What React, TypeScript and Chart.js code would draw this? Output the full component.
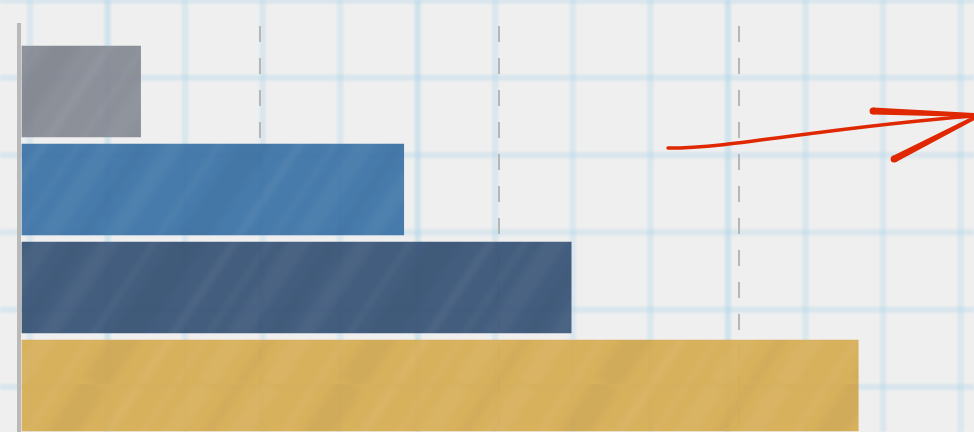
import React, { useEffect, useRef } from 'react';
import { Chart, registerables } from 'chart.js';

Chart.register(...registerables);

// ---- data ----
const categories = ['Item 1', 'Item 2', 'Item 3', 'Item 4'];
const values = [5, 16, 23, 35];
const barColors = ['#868b95', '#3f76a8', '#3b5679', '#d6ae56'];
const xTickStep = 10;
const xMin = 0;
const xMax = 39.84;
const yMin = -0.699;
const yMax = 3.474;

// hand-drawn arrow annotation, in data units (x value, category position)
const arrowShaftX = [27.05, 29.85, 33.4, 39.84];
const arrowShaftY = [0.577, 0.577, 0.372, 0.25];
const arrowHeadTopX = [35.62, 39.84];
const arrowHeadTopY = [0.199, 0.24];
const arrowHeadLowX = [36.5, 39.84];
const arrowHeadLowY = [0.689, 0.27];

function hexToRgb(hex: string) {
  const n = parseInt(hex.slice(1), 16);
  return [(n >> 16) & 255, (n >> 8) & 255, n & 255];
}

function makeTexture(color: string): CanvasPattern | string {
  const c = document.createElement('canvas');
  const W = 256, H = 384;
  c.width = W; c.height = H;
  const g = c.getContext('2d');
  if (!g) return color;
  const [r, gg, b] = hexToRgb(color);
  g.fillStyle = `rgba(${r},${gg},${b},0.96)`;
  g.fillRect(0, 0, W, H);
  g.filter = 'blur(3px)';
  const streaks: [number, number, number][] = [
    [15, 18, 0.045], [60, 4, 0.07], [95, 26, -0.035], [140, 8, 0.06],
    [175, 3, 0.08], [205, 20, 0.04], [240, 6, -0.04],
  ];
  for (const [o, w, a] of streaks) {
    g.strokeStyle = a > 0 ? `rgba(255,255,255,${a})` : `rgba(0,0,0,${-a})`;
    g.lineWidth = w;
    for (const shift of [-W, 0, W]) {
      g.beginPath();
      g.moveTo(o + shift, H);
      g.lineTo(o + shift + W, 0);
      g.stroke();
    }
  }
  const p = g.createPattern(c, 'repeat');
  return p || color;
}

function taper(ctx: CanvasRenderingContext2D, x1: number, y1: number, w1: number, x2: number, y2: number, w2: number) {
  const dx = x2 - x1, dy = y2 - y1;
  const len = Math.hypot(dx, dy) || 1;
  const nx = -dy / len, ny = dx / len;
  ctx.beginPath();
  ctx.moveTo(x1 + nx * w1 / 2, y1 + ny * w1 / 2);
  ctx.lineTo(x2 + nx * w2 / 2, y2 + ny * w2 / 2);
  ctx.lineTo(x2 - nx * w2 / 2, y2 - ny * w2 / 2);
  ctx.lineTo(x1 - nx * w1 / 2, y1 - ny * w1 / 2);
  ctx.closePath();
  ctx.fill();
  ctx.beginPath(); ctx.arc(x1, y1, w1 / 2, 0, Math.PI * 2); ctx.fill();
  ctx.beginPath(); ctx.arc(x2, y2, w2 / 2, 0, Math.PI * 2); ctx.fill();
}

const paperPlugin = {
  id: 'paper',
  beforeDraw(chart: any) {
    const { ctx, width, height } = chart;
    ctx.save();
    ctx.fillStyle = '#efefef';
    ctx.fillRect(0, 0, width, height);
    const step = 77.55;
    ctx.filter = 'blur(1px)';
    let k = 0;
    for (let x = 30; x < width + 10; x += step, k++) {
      ctx.fillStyle = k % 4 === 1 ? 'rgba(165,210,232,0.42)' : 'rgba(170,212,234,0.3)';
      ctx.fillRect(x - 3, 0, 6, height);
    }
    for (let y = 0.5; y < height + 10; y += 77.3) {
      ctx.fillStyle = 'rgba(170,212,234,0.32)';
      ctx.fillRect(0, y - 3, width, 6);
    }
    ctx.restore();
  },
};

const axisLinePlugin = {
  id: 'axisLine',
  beforeDatasetsDraw(chart: any) {
    const { ctx, chartArea, scales } = chart;
    const x0 = scales.x.getPixelForValue(0);
    ctx.save();
    ctx.fillStyle = '#b9b9b9';
    ctx.fillRect(x0 - 4, chartArea.top, 4, chartArea.bottom - chartArea.top);
    ctx.restore();
  },
};

const arrowPlugin = {
  id: 'arrow',
  afterDraw(chart: any) {
    const { ctx, scales } = chart;
    const px = (v: number) => scales.x.getPixelForValue(v);
    const py = (v: number) => scales.y.getPixelForValue(v);
    ctx.save();
    const red = '#e02800';
    ctx.strokeStyle = red;
    ctx.fillStyle = red;
    ctx.lineWidth = 3.5;
    ctx.lineCap = 'round';
    ctx.beginPath();
    ctx.moveTo(px(arrowShaftX[0]), py(arrowShaftY[0]));
    ctx.bezierCurveTo(
      px(arrowShaftX[1]), py(arrowShaftY[1]),
      px(arrowShaftX[2]), py(arrowShaftY[2]),
      px(arrowShaftX[3]), py(arrowShaftY[3])
    );
    ctx.stroke();
    taper(ctx, px(arrowHeadTopX[0]), py(arrowHeadTopY[0]), 7, px(arrowHeadTopX[1]), py(arrowHeadTopY[1]), 4);
    taper(ctx, px(arrowHeadLowX[0]), py(arrowHeadLowY[0]), 7, px(arrowHeadLowX[1]), py(arrowHeadLowY[1]), 4);
    ctx.restore();
  },
};

export default function App() {
  const ref = useRef<HTMLCanvasElement | null>(null);

  useEffect(() => {
    document.body.style.margin = '0';
    const canvas = ref.current;
    if (!canvas) return;
    const textures = barColors.map((c) => makeTexture(c));
    const chart = new Chart(canvas, {
      type: 'bar',
      data: {
        labels: categories,
        datasets: [
          {
            label: 'Values',
            data: values.map((v, i) => ({ x: v, y: i })) as any,
            backgroundColor: textures as any,
            borderWidth: 0,
            barThickness: 91,
          },
        ],
      },
      options: {
        indexAxis: 'y',
        responsive: false,
        animation: false,
        devicePixelRatio: 1,
        layout: { padding: { left: 21, top: 23, right: 0, bottom: 0 } },
        plugins: {
          legend: { display: false },
          tooltip: { enabled: false },
        },
        scales: {
          x: {
            type: 'linear',
            min: xMin,
            max: xMax,
            offset: false,
            ticks: { display: false, stepSize: xTickStep, includeBounds: false },
            grid: {
              color: (c: any) => (c.tick && c.tick.value === 0 ? 'rgba(0,0,0,0)' : '#b6b6b6'),
              lineWidth: 2,
              drawTicks: false,
              offset: false,
            },
            border: { display: false, dash: [16, 16], dashOffset: 29 },
            afterFit: (s: any) => { s.height = 0; },
          },
          y: {
            type: 'linear',
            reverse: true,
            min: yMin,
            max: yMax,
            offset: false,
            ticks: { display: false, stepSize: 1, includeBounds: false },
            grid: { display: false, drawTicks: false, offset: false },
            border: { display: false },
            afterFit: (s: any) => { s.width = 0; },
          },
        },
      },
      plugins: [paperPlugin, axisLinePlugin, arrowPlugin],
    });
    return () => chart.destroy();
  }, []);

  return (
    <div style={{ position: 'fixed', left: 0, top: 0, width: 974, height: 432 }}>
      <canvas ref={ref} width={974} height={432} />
    </div>
  );
}
